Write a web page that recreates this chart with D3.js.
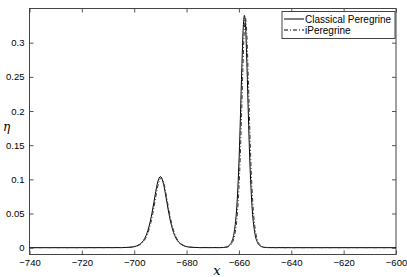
<!DOCTYPE html>
<html>
<head>
<meta charset="utf-8">
<script src="https://cdn.jsdelivr.net/npm/d3@7"></script>
<style>
  body { margin: 0; background: #fff; }
  svg { display: block; font-family: "Liberation Sans", Arial, sans-serif; }
</style>
</head>
<body>
<div id="chart"></div>
<script>
// values
const classicalX = [-740, -720, -705, -702, -700, -698, -697, -696, -695, -694, -693, -692, -691, -690,
    -689, -688, -687, -686, -685, -684, -683, -682, -680, -678, -675, -670,
    -666.9, -664.9, -663.9, -662.9, -661.9, -660.9, -660.4, -659.9, -659.4, -658.9, -658.4, -657.9,
    -657.4, -656.9, -656.4, -655.9, -655.4, -654.9, -653.9, -652.9, -651.9, -650.9, -648.9, -640, -600];
const classicalEta = [0, 0, 0.0001, 0.0005, 0.0015, 0.0047, 0.0079, 0.0135, 0.0225, 0.0362, 0.0551, 0.0772, 0.0963, 0.104,
    0.0963, 0.0772, 0.0551, 0.0362, 0.0225, 0.0135, 0.0079, 0.0047, 0.0015, 0.0005, 0.0001, 0.0001,
    0.0001, 0.0009, 0.0027, 0.0075, 0.0207, 0.0551, 0.0876, 0.134, 0.195, 0.262, 0.318, 0.340,
    0.318, 0.262, 0.195, 0.134, 0.0876, 0.0551, 0.0207, 0.0075, 0.0027, 0.0009, 0.0001, 0, 0];

const iperX = [-740, -720, -704.7, -701.7, -699.7, -697.7, -696.7, -695.7, -694.7, -693.7, -692.7, -691.7, -690.7, -689.7,
    -688.7, -687.7, -686.7, -685.7, -684.7, -683.7, -682.7, -681.7, -679.7, -677.7, -674.7, -670,
    -666.5, -664.5, -663.5, -662.5, -661.5, -660.5, -660, -659.5, -659, -658.5, -658, -657.5,
    -657, -656.5, -656, -655.5, -655, -654.5, -653.5, -652.5, -651.5, -650.5, -648.5, -640, -600];
const iperEta = [0, 0, 0.0001, 0.0005, 0.0015, 0.0046, 0.0078, 0.0132, 0.0221, 0.0355, 0.0541, 0.0757, 0.0945, 0.102,
    0.0945, 0.0757, 0.0541, 0.0355, 0.0221, 0.0132, 0.0078, 0.0046, 0.0015, 0.0005, 0.0001, 0.0001,
    0.0001, 0.0009, 0.0027, 0.0074, 0.0205, 0.0545, 0.0866, 0.132, 0.193, 0.259, 0.314, 0.336,
    0.314, 0.259, 0.193, 0.132, 0.0866, 0.0545, 0.0205, 0.0074, 0.0027, 0.0009, 0.0001, 0, 0];

const xTicks = [-740, -720, -700, -680, -660, -640, -620, -600];
const yTicks = [0, 0.05, 0.1, 0.15, 0.2, 0.25, 0.3];
const seriesNames = ["Classical Peregrine", "iPeregrine"];

const W = 407, H = 277;
const m = { left: 29.5, right: 11, top: 8.5, bottom: 22.5 };

const svg = d3.select("#chart").append("svg")
    .attr("width", W)
    .attr("height", H);

const x = d3.scaleLinear().domain([-740, -600]).range([m.left, W - m.right]);
const y = d3.scaleLinear().domain([-0.01, 0.35]).range([H - m.bottom, m.top]);

const tickLen = 4;
const fmt = d3.format("~g");

// bottom / top axes
svg.append("g")
    .attr("transform", `translate(0,${H - m.bottom})`)
    .call(d3.axisBottom(x).tickValues(xTicks).tickSizeInner(-tickLen).tickSizeOuter(0).tickPadding(5).tickFormat(fmt))
    .call(g => g.select(".domain").remove())
    .call(g => g.selectAll("text").attr("font-size", 9.5).attr("fill", "#000"));
svg.append("g")
    .attr("transform", `translate(0,${m.top})`)
    .call(d3.axisTop(x).tickValues(xTicks).tickSizeInner(-tickLen).tickSizeOuter(0).tickFormat(""))
    .call(g => g.select(".domain").remove());

// left / right axes
svg.append("g")
    .attr("transform", `translate(${m.left},0)`)
    .call(d3.axisLeft(y).tickValues(yTicks).tickSizeInner(-tickLen).tickSizeOuter(0).tickPadding(5).tickFormat(fmt))
    .call(g => g.select(".domain").remove())
    .call(g => g.selectAll("text").attr("font-size", 9.5).attr("fill", "#000"));
svg.append("g")
    .attr("transform", `translate(${W - m.right},0)`)
    .call(d3.axisRight(y).tickValues(yTicks).tickSizeInner(-tickLen).tickSizeOuter(0).tickFormat(""))
    .call(g => g.select(".domain").remove());

svg.selectAll(".tick line").attr("stroke", "#555");

// plot box
svg.append("rect")
    .attr("x", m.left)
    .attr("y", m.top)
    .attr("width", W - m.left - m.right)
    .attr("height", H - m.top - m.bottom)
    .attr("fill", "none")
    .attr("stroke", "#444")
    .attr("stroke-width", 1);

const line = d3.line()
    .x(d => x(d[0]))
    .y(d => y(d[1]))
    .curve(d3.curveMonotoneX);

svg.append("path")
    .datum(d3.zip(classicalX, classicalEta))
    .attr("d", line)
    .attr("fill", "none")
    .attr("stroke", "#000")
    .attr("stroke-width", 1);

svg.append("path")
    .datum(d3.zip(iperX, iperEta))
    .attr("d", line)
    .attr("fill", "none")
    .attr("stroke", "#333")
    .attr("stroke-width", 1)
    .attr("stroke-dasharray", "4,2,1,2");

// legend
const lg = svg.append("g").attr("transform", "translate(282,11.5)");
lg.append("rect")
    .attr("width", 113)
    .attr("height", 27)
    .attr("fill", "#fff")
    .attr("stroke", "#444");
seriesNames.forEach((name, i) => {
    const yy = 7.5 + i * 11;
    lg.append("line")
        .attr("x1", 2).attr("x2", 22)
        .attr("y1", yy).attr("y2", yy)
        .attr("stroke", "#000")
        .attr("stroke-dasharray", i === 0 ? null : "4,2,1,2");
    lg.append("text")
        .attr("x", 23)
        .attr("y", yy + 3.5)
        .attr("font-size", 10)
        .text(name);
});

// axis labels
svg.append("text")
    .attr("x", 217)
    .attr("y", H - 2)
    .attr("text-anchor", "middle")
    .attr("font-family", "'DejaVu Serif', serif")
    .attr("font-style", "italic")
    .attr("font-size", 13)
    .text("x");

svg.append("text")
    .attr("x", 3)
    .attr("y", 131)
    .attr("font-family", "'DejaVu Serif', serif")
    .attr("font-style", "italic")
    .attr("font-size", 12)
    .text("η");
</script>
</body>
</html>
